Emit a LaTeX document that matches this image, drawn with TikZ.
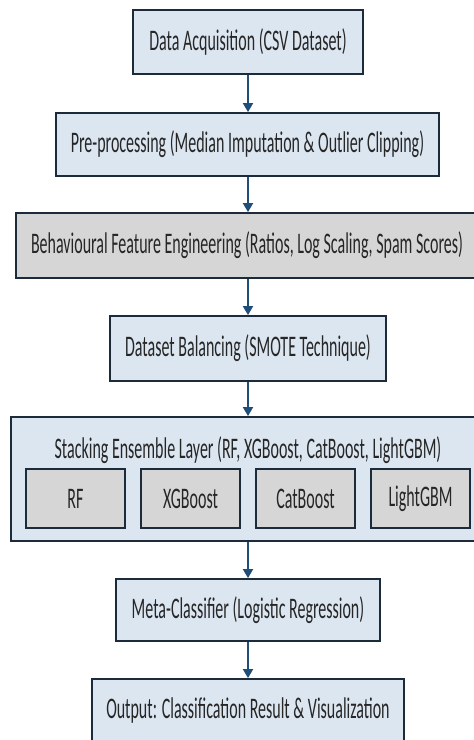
\documentclass[tikz,border=0pt]{standalone}
\usepackage{fontspec}
\setmainfont{Carlito}[FakeStretch=0.535]
\usetikzlibrary{arrows.meta}
\definecolor{boxblue}{HTML}{DCE6F1}
\definecolor{boxgray}{HTML}{D6D6D6}
\definecolor{edge}{HTML}{1C2B3B}
\definecolor{arrowblue}{HTML}{1F4E79}
\tikzset{
  stage/.style={draw=edge, line width=1.8bp, fill=boxblue, rectangle, inner sep=0pt,
    font=\fontsize{30}{33}\selectfont, text=black!85},
  graystage/.style={stage, fill=boxgray},
  model/.style={stage, fill=boxgray, line width=1.5bp},
  flow/.style={arrowblue, line width=1.8bp, -{Triangle[length=9bp,width=10bp]}}
}
\begin{document}
\begin{tikzpicture}[x=1bp,y=-1bp]
  \useasboundingbox[fill=white] (0,0) rectangle (474,740);
  \node[stage, minimum width=230bp, minimum height=64bp] (acq) at (248,42) {Data Acquisition (CSV Dataset)};
  \node[stage, minimum width=383bp, minimum height=63bp] (pre) at (247.5,144.5) {Pre-processing (Median Imputation \& Outlier Clipping)};
  \node[graystage, minimum width=462bp, minimum height=65bp] (feat) at (247,245.5) {Behavioural Feature Engineering (Ratios, Log Scaling, Spam Scores)};
  \node[stage, minimum width=276bp, minimum height=65bp] (bal) at (248,348.5) {Dataset Balancing (SMOTE Technique)};
  \node[stage, minimum width=466bp, minimum height=124bp] (ens) at (244,479) {};
  \node[font=\fontsize{30}{33}\selectfont, text=black!85] (enstitle) at (248,450) {Stacking Ensemble Layer (RF, XGBoost, CatBoost, LightGBM)};
  \node[model, minimum width=99bp, minimum height=59bp] (rf) at (75.5,498.5) {RF};
  \node[model, minimum width=99bp, minimum height=59bp] (xgb) at (190.5,498.5) {XGBoost};
  \node[model, minimum width=99bp, minimum height=59bp] (cat) at (305.5,498.5) {CatBoost};
  \node[model, minimum width=99bp, minimum height=59bp] (lgbm) at (420.5,498.5) {LightGBM};
  \node[stage, minimum width=264bp, minimum height=62bp] (meta) at (248,610) {Meta-Classifier (Logistic Regression)};
  \node[stage, minimum width=312bp, minimum height=64bp] (out) at (248,711) {Output: Classification Result \& Visualization};
  \draw[flow] (acq.south) -- (acq.south |- pre.north);
  \draw[flow] (acq.south |- pre.south) -- (acq.south |- feat.north);
  \draw[flow] (acq.south |- feat.south) -- (acq.south |- bal.north);
  \draw[flow] (bal.south) -- (bal.south |- ens.north);
  \draw[flow] (bal.south |- ens.south) -- (meta.north);
  \draw[flow] (meta.south) -- (out.north);
\end{tikzpicture}
\end{document}
